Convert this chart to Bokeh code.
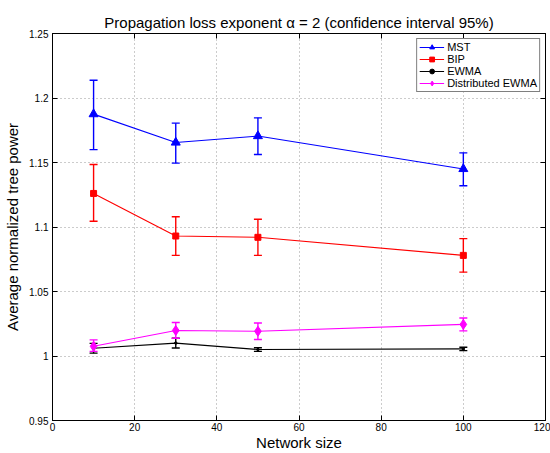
from bokeh.plotting import figure
from bokeh.models import (ColumnDataSource, Whisker, TeeHead, FixedTicker, LinearAxis,
                          Legend, LegendItem, Range1d, Title)
from bokeh.embed import file_html
from bokeh.resources import INLINE

sizes = [10, 30, 50, 100]
mst = [1.1875, 1.1655, 1.1705, 1.145]
mst_lo = [1.160, 1.1495, 1.1562, 1.132]
mst_hi = [1.2138, 1.1805, 1.1846, 1.1575]
bip = [1.126, 1.093, 1.092, 1.078]
bip_lo = [1.1045, 1.078, 1.078, 1.065]
bip_hi = [1.1485, 1.108, 1.106, 1.091]
ewma = [1.006, 1.010, 1.005, 1.0055]
ewma_lo = [1.0022, 1.0062, 1.0036, 1.0042]
ewma_hi = [1.0098, 1.0138, 1.0064, 1.0068]
dewma = [1.0075, 1.0198, 1.0192, 1.0245]
dewma_lo = [1.0036, 1.0138, 1.0128, 1.0195]
dewma_hi = [1.0125, 1.026, 1.0256, 1.0295]

x_ticks = [0, 20, 40, 60, 80, 100, 120]
y_ticks = [0.95, 1.0, 1.05, 1.1, 1.15, 1.2, 1.25]
y_tick_labels = ["0.95", "1", "1.05", "1.1", "1.15", "1.2", "1.25"]

FONT = "Liberation Sans"

p = figure(width=550, height=453, output_backend="svg", toolbar_location=None,
           x_range=Range1d(0, 120), y_range=Range1d(0.95, 1.25),
           min_border_left=52, min_border_right=5, min_border_top=33, min_border_bottom=30)
p.title = Title(text="Propagation loss exponent \u03b1 = 2 (confidence interval 95%)",
                align="center", text_font=FONT, text_font_size="15px",
                text_font_style="normal", text_color="black", offset=0)
p.title.standoff = 5
p.outline_line_color = "black"
p.outline_line_width = 1
p.background_fill_color = "white"
p.border_fill_color = "white"

for ax in p.xaxis:
    ax.ticker = FixedTicker(ticks=x_ticks)
for ax in p.yaxis:
    ax.ticker = FixedTicker(ticks=y_ticks)
    ax.major_label_overrides = {t: l for t, l in zip(y_ticks, y_tick_labels)}

p.xaxis.axis_label = "Network size"
p.yaxis.axis_label = "Average normalized tree power"
for ax in list(p.xaxis) + list(p.yaxis):
    ax.axis_label_text_font = FONT
    ax.axis_label_text_font_style = "normal"
    ax.axis_label_text_font_size = "15px"
    ax.axis_label_text_color = "black"
    ax.major_label_text_font = FONT
    ax.major_label_text_font_size = "10px"
    ax.major_label_text_color = "black"
    ax.major_tick_in = 5
    ax.major_tick_out = 0
    ax.minor_tick_line_color = None
    ax.axis_line_color = "black"
p.xaxis.axis_label_standoff = 0
p.yaxis.axis_label_standoff = 5
p.xaxis.major_label_standoff = 2
p.yaxis.major_label_standoff = 4

# mirrored axes (ticks only)
top = LinearAxis(ticker=FixedTicker(ticks=x_ticks),
                 major_label_overrides={t: "" for t in x_ticks},
                 major_tick_in=5, major_tick_out=0, minor_tick_line_color=None)
right = LinearAxis(ticker=FixedTicker(ticks=y_ticks),
                   major_label_overrides={t: "" for t in y_ticks},
                   major_tick_in=5, major_tick_out=0, minor_tick_line_color=None)
p.add_layout(top, "above")
p.add_layout(right, "right")

p.xgrid.ticker = FixedTicker(ticks=x_ticks)
p.ygrid.ticker = FixedTicker(ticks=y_ticks)
for g in (p.xgrid, p.ygrid):
    g.grid_line_color = "#999999"
    g.grid_line_dash = "1 3"
    g.grid_line_width = 1

series = [
    ("MST", mst, mst_lo, mst_hi, "#0000ff", "triangle", 9),
    ("BIP", bip, bip_lo, bip_hi, "#ff0000", "square", 6),
    ("EWMA", ewma, ewma_lo, ewma_hi, "#000000", "circle", 2.5),
    ("Distributed EWMA", dewma, dewma_lo, dewma_hi, "#ff00ff", "diamond", 10),
]
items = []
for name, y, lo, hi, col, marker, ms in series:
    src = ColumnDataSource(dict(x=sizes, y=y, lo=lo, hi=hi))
    ln = p.line("x", "y", source=src, line_color=col, line_width=1.1)
    w = Whisker(base="x", lower="lo", upper="hi", source=src, line_color=col, line_width=1.4,
                upper_head=TeeHead(size=8, line_color=col, line_width=1.4),
                lower_head=TeeHead(size=8, line_color=col, line_width=1.4))
    p.add_layout(w)
    sc = p.scatter("x", "y", source=src, marker=marker, size=ms, fill_color=col, line_color=col)
    items.append(LegendItem(label=name, renderers=[ln, sc]))

legend = Legend(items=items, location="top_right", label_text_font=FONT,
                label_text_font_size="11px", label_text_color="black",
                border_line_color="black", border_line_width=1,
                padding=2, spacing=0, label_height=12, glyph_height=12, glyph_width=25,
                margin=5, label_standoff=3, background_fill_alpha=1)
p.add_layout(legend)

open("out.html", "w").write(file_html(p, INLINE))
